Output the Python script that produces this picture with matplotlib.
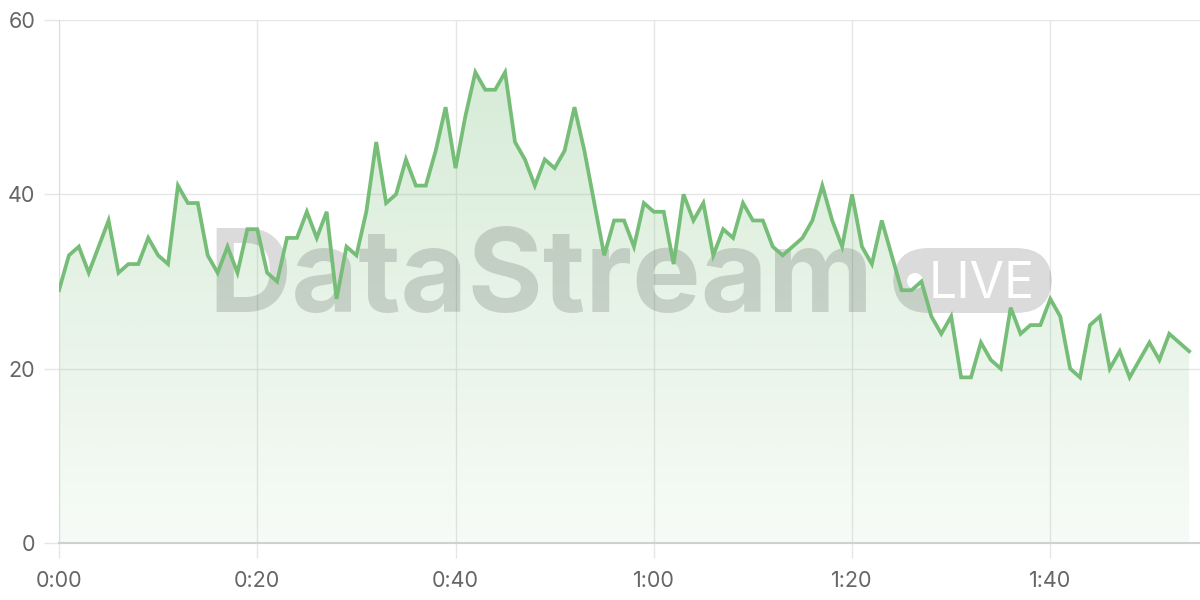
import matplotlib
matplotlib.use('Agg')
import matplotlib.pyplot as plt
import numpy as np
from matplotlib.patches import FancyBboxPatch, Ellipse
from matplotlib.ticker import FuncFormatter

# one reading per minute, 0:00 .. 1:54
values = [29, 33, 34, 31, 34, 37, 31, 32, 32, 35,
          33, 32, 41, 39, 39, 33, 31, 34, 31, 36,
          36, 31, 30, 35, 35, 38, 35, 38, 28, 34,
          33, 38, 46, 39, 40, 44, 41, 41, 45, 50,
          43, 49, 54, 52, 52, 54, 46, 44, 41, 44,
          43, 45, 50, 45, 39, 33, 37, 37, 34, 39,
          38, 38, 32, 40, 37, 39, 33, 36, 35, 39,
          37, 37, 34, 33, 34, 35, 37, 41, 37, 34,
          40, 34, 32, 37, 33, 29, 29, 30, 26, 24,
          26, 19, 19, 23, 21, 20, 27, 24, 25, 25,
          28, 26, 20, 19, 25, 26, 20, 22, 19, 21,
          23, 21, 24, 23, 22]
minutes = np.arange(len(values))
x_ticks = [0, 20, 40, 60, 80, 100]
y_ticks = [0, 20, 40, 60]

line_color = '#76bd78'
grid_color = '#e6e6e6'
label_color = '#666666'

plt.rcParams['font.family'] = ['Inter', 'DejaVu Sans']

fig = plt.figure(figsize=(12, 6), dpi=100)
ax = fig.add_axes([59 / 1200, 57 / 600, 1 - 59 / 1200, (543 - 20) / 600])

# gradient fill under the line
poly = ax.fill_between(minutes, values, 0, facecolor='none', edgecolor='none')
grad = np.zeros((256, 1, 4))
grad[:, 0, :3] = matplotlib.colors.to_rgb(line_color)
grad[:, 0, 3] = np.linspace(0.32, 0.06, 256)
im = ax.imshow(grad, extent=[0, minutes[-1], 0, 60], origin='upper',
               aspect='auto', zorder=1)
im.set_clip_path(poly.get_paths()[0], transform=ax.transData)

ax.plot(minutes, values, color=line_color, lw=2.7, zorder=4,
        solid_joinstyle='miter')

ax.set_xlim(0, 115.1)
ax.set_ylim(0, 60)
ax.set_xticks(x_ticks)
ax.set_yticks(y_ticks)
ax.xaxis.set_major_formatter(FuncFormatter(lambda v, p: f'{int(v) // 60}:{int(v) % 60:02d}'))

ax.grid(True, color=grid_color, lw=1, zorder=0)
ax.set_axisbelow(True)
for s in ['top', 'right']:
    ax.spines[s].set_visible(False)
ax.spines['left'].set_color('#dddddd')
ax.spines['bottom'].set_color('#d0d0d0')
ax.spines['bottom'].set_linewidth(1.5)
ax.spines['bottom'].set_zorder(5)

ax.tick_params(axis='both', length=11, width=1, color=grid_color,
               labelcolor=label_color, labelsize=15.5)
ax.tick_params(axis='x', pad=9)
ax.tick_params(axis='y', pad=6)

# watermark, under the line but over the fill
ft = fig.transFigure
ax.text(208 / 1200, (600 - 312) / 600, 'DataStream', transform=ft,
        fontsize=83, fontweight='bold', color='black', alpha=0.14,
        ha='left', va='baseline', zorder=3, clip_on=False)
pill = FancyBboxPatch((893 / 1200, (600 - 313) / 600), 159 / 1200, 65 / 600,
                      boxstyle='round,pad=0,rounding_size=0.03',
                      transform=ft, facecolor='black', edgecolor='none',
                      alpha=0.14, zorder=3, mutation_aspect=2, clip_on=False)
ax.add_patch(pill)
dot = Ellipse((915 / 1200, (600 - 281) / 600), 16 / 1200, 16 / 600,
              transform=ft, facecolor='white', edgecolor='none', zorder=3.5,
              clip_on=False)
ax.add_patch(dot)
ax.text(929 / 1200, (600 - 298) / 600, 'LIVE', transform=ft, fontsize=36,
        color='white', ha='left', va='baseline', zorder=3, clip_on=False)

fig.savefig('out.png', dpi=100)
